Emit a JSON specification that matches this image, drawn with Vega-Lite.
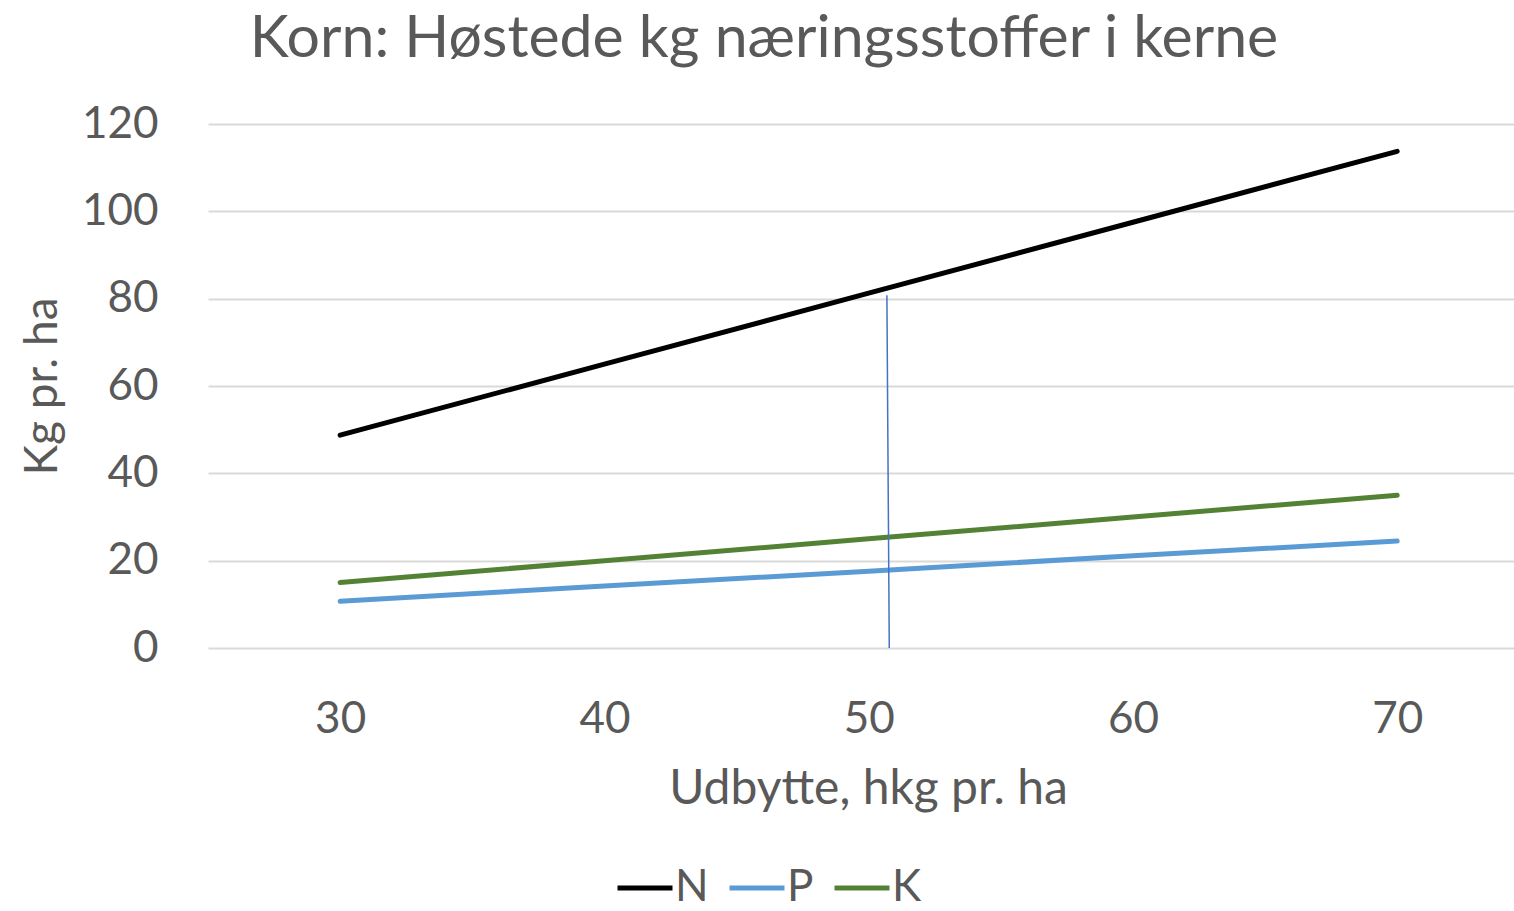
{
  "$schema": "https://vega.github.io/schema/vega-lite/v6.json",
  "autosize": "none",
  "width": 1306,
  "height": 524,
  "padding": {"left": 208, "top": 124, "right": 0, "bottom": 263},
  "background": "white",
  "config": {"view": {"stroke": null}, "font": "Lato"},
  "title": {
    "text": "Korn: Høstede kg næringsstoffer i kerne",
    "fontSize": 59,
    "font": "Lato",
    "fontWeight": "normal",
    "color": "#595959",
    "anchor": "middle",
    "frame": "group",
    "offset": 33,
    "dx": -97
  },
  "layer": [
    {
      "data": {
        "values": [
          {"x": 30, "value": 48.75, "serie": "N"},
          {"x": 40, "value": 65.0, "serie": "N"},
          {"x": 50, "value": 81.25, "serie": "N"},
          {"x": 60, "value": 97.5, "serie": "N"},
          {"x": 70, "value": 113.75, "serie": "N"},
          {"x": 30, "value": 10.7, "serie": "P"},
          {"x": 40, "value": 14.2, "serie": "P"},
          {"x": 50, "value": 17.6, "serie": "P"},
          {"x": 60, "value": 21.1, "serie": "P"},
          {"x": 70, "value": 24.5, "serie": "P"},
          {"x": 30, "value": 15.0, "serie": "K"},
          {"x": 40, "value": 20.0, "serie": "K"},
          {"x": 50, "value": 25.0, "serie": "K"},
          {"x": 60, "value": 30.0, "serie": "K"},
          {"x": 70, "value": 35.0, "serie": "K"}
        ]
      },
      "mark": {"type": "line", "strokeWidth": 5, "strokeCap": "round", "strokeJoin": "round"},
      "encoding": {
        "x": {
          "field": "x",
          "type": "quantitative",
          "scale": {"domain": [25, 74.42], "nice": false, "zero": false},
          "axis": {
            "values": [30, 40, 50, 60, 70],
            "domain": false,
            "ticks": false,
            "tickSize": 0,
            "grid": false,
            "labelFontSize": 44,
            "labelColor": "#595959",
            "labelBaseline": "alphabetic",
            "labelPadding": 84,
            "labelFont": "Lato",
            "title": "Udbytte, hkg pr. ha",
            "titleFont": "Lato",
            "titleFontSize": 48,
            "titleFontWeight": "normal",
            "titleColor": "#595959",
            "titleBaseline": "alphabetic",
            "titleX": 660,
            "titleY": 155,
            "titleAnchor": "middle"
          }
        },
        "y": {
          "field": "value",
          "type": "quantitative",
          "scale": {"domain": [0, 120], "nice": false},
          "axis": {
            "values": [0, 20, 40, 60, 80, 100, 120],
            "domain": false,
            "ticks": false,
            "tickSize": 0,
            "grid": true,
            "gridColor": "#d9d9d9",
            "gridWidth": 2,
            "labelFontSize": 44,
            "labelColor": "#595959",
            "labelPadding": 50,
            "labelFont": "Lato",
            "title": "Kg pr. ha",
            "titleFont": "Lato",
            "titleFontSize": 46,
            "titleFontWeight": "normal",
            "titleColor": "#595959",
            "titleAngle": -90,
            "titleBaseline": "alphabetic",
            "titleAlign": "center",
            "titleX": -152,
            "titleY": 262
          }
        },
        "color": {
          "field": "serie",
          "type": "nominal",
          "sort": ["N", "P", "K"],
          "scale": {"domain": ["N", "P", "K"], "range": ["#000000", "#5B9BD5", "#548235"]},
          "legend": {
            "title": null,
            "orient": "none",
            "direction": "horizontal",
            "legendX": 407,
            "legendY": 734,
            "symbolType": "stroke",
            "symbolStrokeWidth": 5,
            "symbolSize": 3025,
            "labelFontSize": 44,
            "labelFont": "Lato",
            "labelColor": "#595959",
            "labelOffset": 0,
            "columnPadding": 10
          }
        }
      }
    },
    {
      "data": {"values": [{"x": 50.69, "y": 80.8, "x2": 50.78, "y2": 0}]},
      "mark": {"type": "rule", "color": "#4472C4", "strokeWidth": 1.5},
      "encoding": {
        "x": {"field": "x", "type": "quantitative"},
        "y": {"field": "y", "type": "quantitative"},
        "x2": {"field": "x2"},
        "y2": {"field": "y2"}
      }
    }
  ]
}
